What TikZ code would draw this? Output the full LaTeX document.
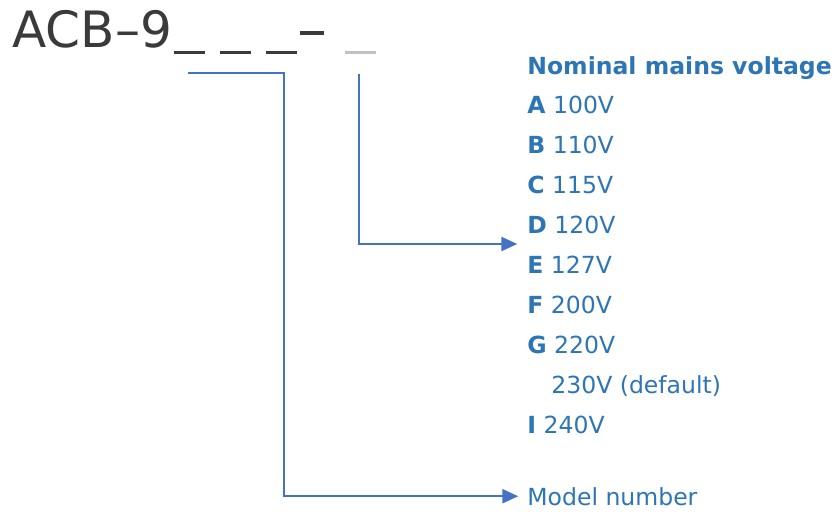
\documentclass[tikz,border=0pt]{standalone}
\usepackage{fontspec}
\setmainfont{DejaVu Sans}
\usetikzlibrary{arrows.meta,positioning}
\definecolor{codeblue}{HTML}{2E75B6}
\definecolor{lineblue}{HTML}{4472C4}
\definecolor{titlegray}{HTML}{3A3A3A}
\definecolor{blankgray}{HTML}{C0C0C0}
\newcommand{\codeblank}{\rule[-4pt]{17.6pt}{2pt}}
\newcommand{\codedash}{\rule[7pt]{13.6pt}{2.2pt}}
\tikzset{
	codetitle/.style={inner sep=0pt, anchor=base west, text=titlegray, font=\fontsize{28.5}{30}\selectfont},
	optline/.style={inner sep=0pt, anchor=base west, text=codeblue, font=\fontsize{13.4}{15}\selectfont},
	pointer/.style={draw=lineblue, line width=1.1pt, shorten >=5pt, -{Triangle[length=9pt,width=8pt]}},
}

\begin{document}
\begin{tikzpicture}[x=0.02cm, y=-0.02cm]
		%%%%% START %%%%%
		\useasboundingbox (0, 0) rectangle (839, 514);
		
		\node[codetitle] (code) at (12, 47) {ACB–9\kern1pt\codeblank\kern8.8pt\codeblank\kern8.8pt\codeblank\kern1.7pt\codedash\kern12pt\textcolor{blankgray}{\codeblank}};
		
		\coordinate (blankA) at (188, 73);
		\coordinate (bendA) at (284, 73);
		\coordinate (blankB) at (359, 74);
		
		\node[optline] (head) at (527, 74) {\textbf{Nominal mains voltage}};
		\node[optline] (voltA) at (527, 113.5) {\textbf{A} 100V};
		\node[optline] (voltB) at (527, 153.5) {\textbf{B} 110V};
		\node[optline] (voltC) at (527, 193.5) {\textbf{C} 115V};
		\node[optline] (voltD) at (527, 233.5) {\textbf{D} 120V};
		\node[optline] (voltE) at (527, 273.5) {\textbf{E} 127V};
		\node[optline] (voltF) at (527, 313.5) {\textbf{F} 200V};
		\node[optline] (voltG) at (527, 353.5) {\textbf{G} 220V};
		\node[optline] (voltH) at (551, 393.5) {230V (default)};
		\node[optline] (voltI) at (527, 433.5) {\textbf{I} 240V};
		
		\node[optline] (model) at (527, 505) {Model number};
		
		\coordinate (tipB) at (526, 244);
		
		\draw[pointer] (blankA) -- (bendA) |- (model.west);
		\draw[pointer] (blankB) |- (tipB);
		
		%%%%% END %%%%%
\end{tikzpicture}
\end{document}
